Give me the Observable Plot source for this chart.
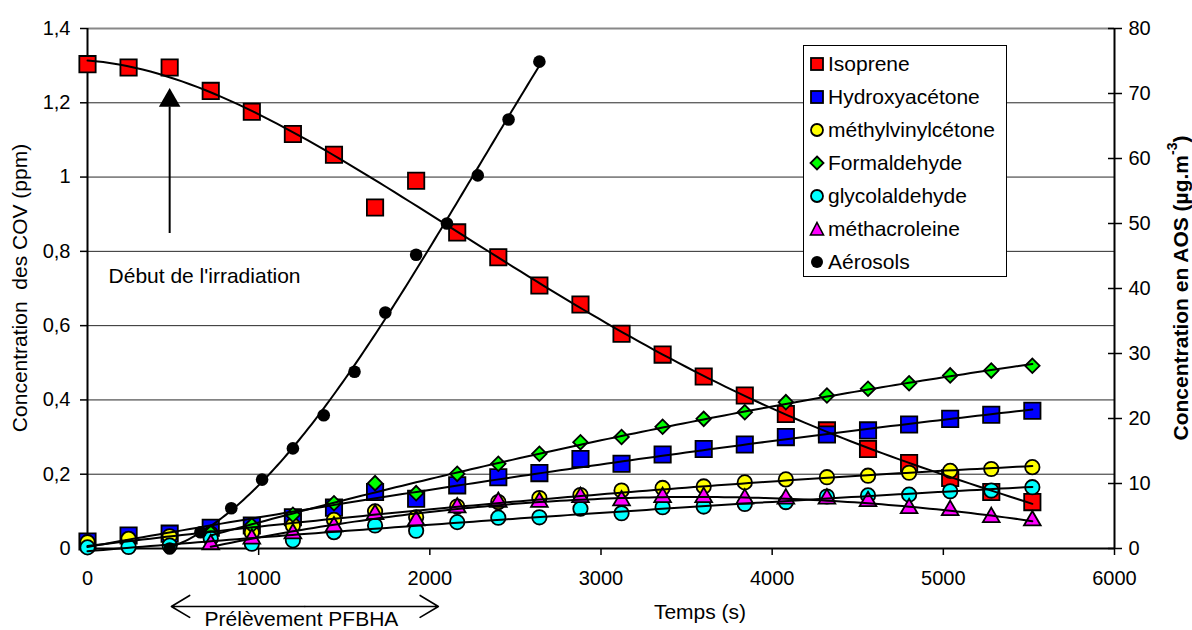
<!DOCTYPE html>
<html><head><meta charset="utf-8">
<script src="https://cdn.jsdelivr.net/npm/d3@7"></script>
<script src="https://cdn.jsdelivr.net/npm/@observablehq/plot@0.6"></script>
<style>
body{margin:0;background:#fff;font-family:"Liberation Sans",Arial,sans-serif;}
#wrap{position:relative;width:1192px;height:630px;overflow:hidden;}
#legend{position:absolute;left:803px;top:45px;width:204px;height:232px;border:1px solid #000;background:#fff;box-sizing:border-box;}
.row{position:absolute;left:0;height:30px;display:flex;align-items:center;font-size:21px;color:#000;white-space:nowrap;}
.row svg{margin-left:5px;margin-right:3px;}
</style></head>
<body><div id="wrap"><div id="chart"></div><div id="legend"></div></div>
<script>
// ---- data (time in s, VOC in ppm, aerosols in µg/m3) ----
const times = [0,240,480,720,960,1200,1440,1680,1920,2160,2400,2640,2880,3120,3360,3600,3840,4080,4320,4560,4800,5040,5280,5520];
const isoprene = [1.304,1.295,1.295,1.232,1.176,1.116,1.060,0.918,0.990,0.851,0.784,0.708,0.657,0.578,0.522,0.463,0.412,0.362,0.318,0.268,0.230,0.190,0.152,0.125];
const hydroxyacetone = [0.019,0.035,0.040,0.056,0.062,0.084,0.110,0.152,0.134,0.170,0.192,0.203,0.241,0.228,0.253,0.268,0.280,0.300,0.307,0.318,0.334,0.349,0.360,0.371];
const mvk = [0.017,0.026,0.033,0.040,0.043,0.062,0.077,0.100,0.084,0.113,0.125,0.136,0.144,0.156,0.163,0.167,0.178,0.186,0.192,0.196,0.204,0.209,0.214,0.219];
const formaldehyde = [null,null,null,0.042,0.062,0.091,0.122,0.176,0.149,0.201,0.228,0.255,0.286,0.300,0.328,0.349,0.367,0.394,0.412,0.430,0.445,0.466,0.479,0.492];
const glycolaldehyde = [0.003,0.004,0.008,0.027,0.013,0.022,0.044,0.062,0.048,0.071,0.083,0.084,0.107,0.095,0.111,0.113,0.120,0.125,0.140,0.143,0.145,0.154,0.156,0.165];
const methacroleine = [null,null,null,0.011,0.026,0.040,0.059,0.092,0.075,0.110,0.125,0.125,0.138,0.129,0.138,0.138,0.134,0.134,0.134,0.127,0.108,0.103,0.084,0.075];
const aerosolTimes = [480,660,840,1020,1200,1380,1560,1740,1920,2100,2280,2460,2640];
const aerosols = [0,2.5,6.2,10.6,15.4,20.5,27.2,36.3,45.2,50.0,57.4,66.0,74.9];

const seriesNames = ["Isoprene","Hydroxyacétone","méthylvinylcétone","Formaldehyde","glycolaldehyde","méthacroleine","Aérosols"];
const seriesColors = ["#ff0000","#0000ff","#ffff00","#00ff00","#00ffff","#ff00ff","#000000"];
const seriesSymbols = ["square","square","circle","diamond","circle","triangle","dot"];
const fitDegrees = [4,2,2,2,2,2,3];

const xTicks = [0,1000,2000,3000,4000,5000,6000];
const yTicks = [0,0.2,0.4,0.6,0.8,1,1.2,1.4];
const aosTicks = [0,10,20,30,40,50,60,70,80];

// annotations (data units)
const irradiation = {time:480, label:"Début de l'irradiation", labelX:123, labelY:0.732, from:0.848, to:1.189, head:1.206};
const sampling = {start:490, end:2050, mid:1270, y:-0.156, label:"Prélèvement PFBHA", labelX:1250, labelY:-0.19};

// ---- scale conversion for the right axis ----
const k = 1.4/80;

// ---- build records ----
const voc = [isoprene,hydroxyacetone,mvk,formaldehyde,glycolaldehyde,methacroleine];
const series = voc.map((vals,i)=>times.map((t,j)=>({t, v:vals[j], s:i})).filter(d=>d.v!=null));
series.push(aerosolTimes.map((t,j)=>({t, v:aerosols[j]*k, s:6})));

// least-squares polynomial trend line (like the spreadsheet's trendline)
function polyfit(pts, deg){
  const n = deg+1, sc = 1000;
  const A = Array.from({length:n},()=>Array(n+1).fill(0));
  for (const p of pts){ const x=p.t/sc; const pw=[]; for(let i=0;i<n;i++) pw.push(x**i);
    for(let i=0;i<n;i++){ for(let j=0;j<n;j++) A[i][j]+=pw[i]*pw[j]; A[i][n]+=pw[i]*p.v; } }
  for(let i=0;i<n;i++){ let m=i; for(let r=i+1;r<n;r++) if(Math.abs(A[r][i])>Math.abs(A[m][i])) m=r; [A[i],A[m]]=[A[m],A[i]];
    for(let r=0;r<n;r++){ if(r===i) continue; const f=A[r][i]/A[i][i]; for(let c=i;c<=n;c++) A[r][c]-=f*A[i][c]; } }
  const coef=A.map((row,i)=>row[n]/row[i]);
  return x => coef.reduce((acc,c,i)=>acc+c*(x/sc)**i,0);
}
const trends = series.map((pts,i)=>{
  const f = polyfit(pts, fitDegrees[i]);
  const [a,b] = d3.extent(pts, d=>d.t);
  return d3.range(0,121).map(j=>{const t=a+(b-a)*j/120; return {t, v:f(t)};});
});

function dotMark(i){
  const data = series[i], color = seriesColors[i], sym = seriesSymbols[i];
  const base = {x:"t", y:"v", fill:color, stroke:"#000", strokeWidth:1.8};
  if (sym==="square") return Plot.dot(data,{...base, symbol:"square", r:9.2});
  if (sym==="circle") return Plot.dot(data,{...base, r:7.2});
  if (sym==="diamond") return Plot.dot(data,{...base, symbol:"square", r:5.8, rotate:45});
  if (sym==="triangle") return Plot.dot(data,{...base, symbol:"triangle", r:6.2});
  return Plot.dot(data,{x:"t", y:"v", fill:"#000", r:6.3});
}

const fmtY = d => String(+d.toFixed(1)).replace(".", ",");

const chart = Plot.plot({
  width:1192, height:630,
  marginTop:28, marginRight:78, marginBottom:82, marginLeft:87,
  style:{fontFamily:"'Liberation Sans', Arial, sans-serif", fontSize:"20px", color:"#000", background:"transparent", overflow:"visible"},
  x:{domain:[0,6000]},
  y:{domain:[0,1.4]},
  marks:[
    Plot.ruleY(yTicks.filter(d=>d>0 && d<1.4), {stroke:"#000", strokeWidth:1, strokeOpacity:0.85}),
    Plot.ruleY([1.4], {stroke:"#888", strokeWidth:2}),
    Plot.axisX({ticks:xTicks, tickSize:7, tickPadding:15, label:null, tickFormat:d=>String(d), strokeWidth:1.5}),
    Plot.axisY({ticks:yTicks, tickSize:7, tickPadding:10, label:null, tickFormat:fmtY, strokeWidth:1.5}),
    Plot.axisY({anchor:"right", ticks:aosTicks.map(v=>v*k), tickSize:7, tickPadding:7, label:null, tickFormat:d=>String(Math.round(d/k)), strokeWidth:1.5}),
    Plot.axisY({anchor:"right", ticks:aosTicks.map(v=>v*k), tickSize:-7, tickPadding:0, label:null, tickFormat:()=>"", strokeWidth:1.5}),
    Plot.ruleX([0], {stroke:"#000", strokeWidth:2}),
    Plot.ruleX([6000], {stroke:"#000", strokeWidth:2}),
    Plot.ruleY([0], {stroke:"#000", strokeWidth:2}),
    ...series.map((_,i)=>dotMark(i)),
    ...trends.map(tr=>Plot.line(tr,{x:"t", y:"v", stroke:"#000", strokeWidth:2, curve:"linear"})),
    // irradiation annotation
    Plot.ruleX([irradiation.time], {y1:irradiation.from, y2:irradiation.to, stroke:"#000", strokeWidth:2}),
    Plot.dot([irradiation.time], {x:d=>d, y:irradiation.head, symbol:"triangle", r:8, fill:"#000", stroke:"none"}),
    Plot.text([irradiation.label], {x:irradiation.labelX, y:irradiation.labelY, text:d=>d, textAnchor:"start", fontSize:21}),
    // sampling annotation
    Plot.arrow([sampling.start, sampling.end], {x1:sampling.mid, x2:d=>d, y1:sampling.y, y2:sampling.y, stroke:"#000", strokeWidth:1.6, headLength:20, headAngle:62}),
    Plot.text([sampling.label], {x:sampling.labelX, y:sampling.labelY, text:d=>d, fontSize:21})
  ]
});
document.getElementById("chart").appendChild(chart);

// axis titles
const svg = d3.select(chart);
svg.append("text").attr("transform","translate(19,288) rotate(-90)").attr("text-anchor","middle").attr("dominant-baseline","central")
  .style("font-size","21px").style("white-space","pre").attr("fill","#000").text("Concentration  des COV (ppm)");
const rt = svg.append("text").attr("transform","translate(1180,288) rotate(-90)").attr("text-anchor","middle").attr("dominant-baseline","central")
  .style("font-size","21px").style("font-weight","bold").attr("fill","#000");
rt.append("tspan").text("Concentration en AOS (µg.m");
rt.append("tspan").attr("dy","-8").style("font-size","14px").text("-3");
rt.append("tspan").attr("dy","8").text(")");
svg.append("text").attr("x",700).attr("y",611).attr("text-anchor","middle").attr("dominant-baseline","central")
  .style("font-size","21px").attr("fill","#000").text("Temps (s)");

// legend
const leg = d3.select("#legend");
seriesNames.forEach((name,i)=>{
  const row = leg.append("div").attr("class","row").style("top",(3 + i*33)+"px");
  const s = row.append("svg").attr("width",16).attr("height",16);
  const g = s.append("g").attr("transform","translate(8,8)");
  const sym = seriesSymbols[i], col = seriesColors[i];
  if (sym==="square") g.append("rect").attr("x",-6).attr("y",-6).attr("width",12).attr("height",12).attr("fill",col).attr("stroke","#000").attr("stroke-width",1.8);
  else if (sym==="circle") g.append("circle").attr("r",6).attr("fill",col).attr("stroke","#000").attr("stroke-width",1.8);
  else if (sym==="diamond") g.append("path").attr("d","M0,-6.5L6.5,0L0,6.5L-6.5,0Z").attr("fill",col).attr("stroke","#000").attr("stroke-width",1.8);
  else if (sym==="triangle") g.append("path").attr("d","M0,-6.5L6.5,6L-6.5,6Z").attr("fill",col).attr("stroke","#000").attr("stroke-width",1.6);
  else g.append("circle").attr("r",6).attr("fill","#000");
  row.append("span").text(name);
});
</script></body></html>
